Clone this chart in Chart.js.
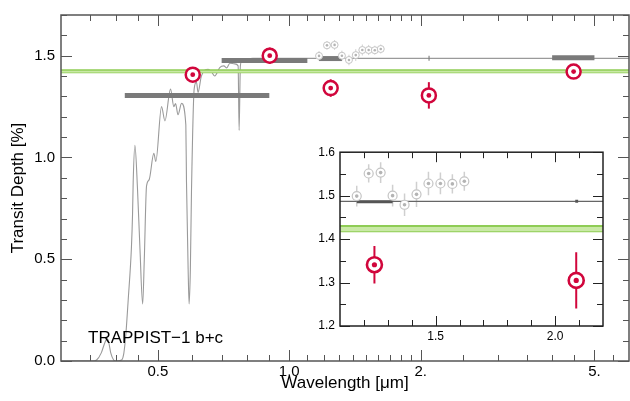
<!DOCTYPE html>
<html>
<head>
<meta charset="utf-8">
<script src="https://cdn.jsdelivr.net/npm/chart.js@4"></script>
<style>
  html, body { margin: 0; padding: 0; background: #fff; }
  #wrap { position: relative; width: 630px; height: 401px; }
  #main { position: absolute; left: 0; top: 0; }
  #inset { position: absolute; left: 300px; top: 140px; }
</style>
</head>
<body>
<div id="wrap">
  <canvas id="main" width="630" height="401"></canvas>
  <canvas id="inset" width="310" height="205"></canvas>
</div>
<script>
/* DATA */
// model transmission spectrum
const specWave = [0.30, 0.355, 0.362, 0.371, 0.378, 0.383, 0.386, 0.390, 0.396, 0.400, 0.413, 0.418,
  0.4225, 0.4276, 0.435, 0.4375, 0.439, 0.443, 0.449, 0.455, 0.4615, 0.4655, 0.471, 0.4774,
  0.4895, 0.4947, 0.5098, 0.519, 0.5346, 0.544, 0.549, 0.556, 0.5666, 0.5795, 0.5815, 0.5866,
  0.5896, 0.5935, 0.597, 0.6055, 0.613, 0.618, 0.629, 0.652, 0.6635, 0.675, 0.693, 0.708,
  0.719, 0.731, 0.750, 0.7635, 0.7676, 0.7726, 0.777, 0.798, 0.825, 1.0, 2.0, 6.0];
const specDepth = [0, 0, 0.005, 0.04, 0.09, 0.11, 0.09, 0.04, 0.005, 0, 0.005, 0.04,
  0.136, 0.30, 0.56, 0.72, 0.88, 1.06, 0.85, 0.55, 0.28, 0.50, 0.86, 0.89,
  1.02, 0.98, 1.25, 1.18, 1.336, 1.25, 1.265, 1.21, 1.266, 1.16, 0.88, 0.45,
  0.28, 0.45, 0.83, 1.336, 1.37, 1.32, 1.40, 1.433, 1.42, 1.40, 1.442, 1.45,
  1.44, 1.463, 1.46, 1.45, 1.133, 1.45, 1.47, 1.48, 1.487, 1.487, 1.487, 1.487];

// binned model
const binLo = [0.42, 0.70, 1.17, 2.084, 4.0];
const binHi = [0.90, 1.10, 1.32, 2.096, 5.0];
const binDepth = [1.304, 1.476, 1.486, 1.487, 1.49];

// observed points (red)
const obsWave = [0.601, 0.902, 1.244, 2.088, 4.48];
const obsDepth = [1.407, 1.50, 1.341, 1.305, 1.422];
const obsErr = [0.03, 0.04, 0.043, 0.065, 0.02];

// HST WFC3 points (grey)
const hstWave = [1.17, 1.22, 1.27, 1.32, 1.37, 1.42, 1.47, 1.52, 1.57, 1.62];
const hstDepth = [1.499, 1.551, 1.553, 1.500, 1.479, 1.503, 1.528, 1.528, 1.527, 1.533];
const hstErr = [0.024, 0.021, 0.024, 0.025, 0.026, 0.029, 0.027, 0.025, 0.022, 0.022];

// flat line band
const flatBand = [1.418, 1.430];

// axes
const xRange = [0.3, 6];
const xMajor = [0.5, 1, 2, 5];
const xLabels = ["0.5", "1.0", "2.", "5."];
const xMinor = [0.35, 0.4, 0.45, 0.6, 0.7, 0.8, 0.9, 1.1, 1.2, 1.3, 1.4, 1.5, 1.6, 1.7, 1.8, 1.9,
  2.5, 3, 3.5, 4, 4.5, 5.5];
const yRange = [0, 1.7];
const yMajor = [0, 0.5, 1.0, 1.5];
const yLabels = ["0.0", "0.5", "1.0", "1.5"];
const yMinor = [0.1, 0.2, 0.3, 0.4, 0.6, 0.7, 0.8, 0.9, 1.1, 1.2, 1.3, 1.4, 1.6, 1.7];

const insetXRange = [1.1, 2.2];
const insetXMajor = [1.5, 2.0];
const insetXLabels = ["1.5", "2.0"];
const insetXMinor = [1.2, 1.3, 1.4, 1.6, 1.7, 1.8, 1.9, 2.1];
const insetYRange = [1.2, 1.6];
const insetYMajor = [1.2, 1.3, 1.4, 1.5, 1.6];
const insetYLabels = ["1.2", "1.3", "1.4", "1.5", "1.6"];
const insetYMinor = [1.25, 1.35, 1.45, 1.55];

/*****************************************************************/

const RED = '#d1063c';
const FONT = "'Liberation Sans', Arial, Helvetica, sans-serif";

function pts(xs, ys) {
    return xs.map((v, i) => ({ x: v, y: ys[i] }));
}

// frame, inward ticks on all four sides, error bars
const frameTicks = {
    id: 'frameTicks',
    beforeDatasetsDraw(chart, args, o) {
        const { ctx, chartArea: a, scales: { x, y } } = chart;
        ctx.save();
        if (o.bg) {
            ctx.fillStyle = o.bg;
            ctx.fillRect(a.left, a.top, a.right - a.left, a.bottom - a.top);
        }
        ctx.beginPath();
        ctx.rect(a.left, a.top, a.right - a.left, a.bottom - a.top);
        ctx.clip();
        o.errors.forEach(e => {
            ctx.strokeStyle = e.color;
            ctx.lineWidth = e.width;
            e.xs.forEach((xv, i) => {
                const px = x.getPixelForValue(xv);
                ctx.beginPath();
                ctx.moveTo(px, y.getPixelForValue(e.ys[i] - e.es[i]));
                ctx.lineTo(px, y.getPixelForValue(e.ys[i] + e.es[i]));
                ctx.stroke();
            });
        });
        ctx.restore();
    },
    afterDatasetsDraw(chart, args, o) {
        const { ctx, chartArea: a, scales: { x, y } } = chart;
        ctx.save();
        ctx.strokeStyle = o.color;
        ctx.lineWidth = o.tickWidth;
        const xt = (list, len) => list.forEach(v => {
            const px = Math.round(x.getPixelForValue(v)) + 0.5;
            ctx.beginPath();
            ctx.moveTo(px, a.bottom); ctx.lineTo(px, a.bottom - len);
            ctx.moveTo(px, a.top); ctx.lineTo(px, a.top + len);
            ctx.stroke();
        });
        const yt = (list, len) => list.forEach(v => {
            const py = Math.round(y.getPixelForValue(v)) + 0.5;
            ctx.beginPath();
            ctx.moveTo(a.left, py); ctx.lineTo(a.left + len, py);
            ctx.moveTo(a.right, py); ctx.lineTo(a.right - len, py);
            ctx.stroke();
        });
        xt(o.xMinor, o.minLen); xt(o.xMajor, o.majLen);
        yt(o.yMinor, o.minLen); yt(o.yMajor, o.majLen);
        ctx.lineWidth = o.frameWidth;
        ctx.strokeRect(a.left, a.top, a.right - a.left, a.bottom - a.top);
        if (o.label) {
            ctx.fillStyle = '#000';
            ctx.font = o.label.font;
            ctx.textBaseline = 'alphabetic';
            ctx.fillText(o.label.text, a.left + o.label.dx, a.bottom - o.label.dy);
        }
        ctx.restore();
    }
};

function makeDatasets(s) {
    const ds = [];
    ds.push({ data: pts(obsWave, obsDepth), pointRadius: s.dotR, pointBackgroundColor: RED,
        pointBorderWidth: 0, order: 0 });
    ds.push({ data: pts(obsWave, obsDepth), pointRadius: s.ringR, pointBackgroundColor: '#fff',
        pointBorderColor: RED, pointBorderWidth: s.ringW, order: 1 });
    ds.push({ data: pts(hstWave, hstDepth), pointRadius: s.hstDotR, pointBackgroundColor: '#b4b4b4',
        pointBorderWidth: 0, order: 2 });
    ds.push({ data: pts(hstWave, hstDepth), pointRadius: s.hstR, pointBackgroundColor: '#fff',
        pointBorderColor: '#c4c4c4', pointBorderWidth: s.hstW, order: 3 });
    binLo.forEach((lo, i) => {
        ds.push({ data: [{ x: lo, y: binDepth[i] }, { x: binHi[i], y: binDepth[i] }],
            showLine: true, pointRadius: 0, borderColor: s.barColor, borderWidth: s.barW,
            borderCapStyle: 'butt', order: 4 });
    });
    ds.push({ data: pts(xRange, [flatBand[1], flatBand[1]]), showLine: true, pointRadius: 0,
        borderColor: '#8fcc55', borderWidth: s.bandW, fill: '+1',
        backgroundColor: '#c9e9a6', order: 5 });
    ds.push({ data: pts(xRange, [flatBand[0], flatBand[0]]), showLine: true, pointRadius: 0,
        borderColor: '#8fcc55', borderWidth: s.bandW, order: 5 });
    ds.push({ data: pts(specWave, specDepth), showLine: true, pointRadius: 0,
        borderColor: s.specColor, borderWidth: s.specW, cubicInterpolationMode: 'monotone', order: 6 });
    return ds;
}

/* MAIN CHART */
new Chart(document.getElementById('main').getContext('2d'), {
    type: 'scatter',
    data: {
        datasets: makeDatasets({ dotR: 2.4, ringR: 7, ringW: 2.5, hstDotR: 1.3, hstR: 3.5, hstW: 1,
            barColor: '#7a7a7a', barW: 5, bandW: 1.6, specColor: '#9a9a9a', specW: 1.1 })
    },
    options: {
        responsive: false,
        animation: false,
        devicePixelRatio: 1,
        events: [],
        layout: { autoPadding: false, padding: { top: 11, right: 1, left: 0, bottom: 0 } },
        scales: {
            x: {
                type: 'logarithmic',
                min: xRange[0], max: xRange[1],
                grid: { display: false, drawTicks: false },
                border: { display: false },
                afterBuildTicks: s => { s.ticks = xMajor.map(v => ({ value: v })); },
                afterFit: s => { s.height = 40; },
                ticks: {
                    autoSkip: false, maxRotation: 0, padding: 2, color: '#000',
                    font: { family: FONT, size: 15 },
                    callback: (v, i) => xLabels[i]
                },
                title: { display: true, text: 'Wavelength [\u03bcm]', color: '#000',
                    font: { family: FONT, size: 17 }, padding: { top: 0, bottom: 7 } }
            },
            y: {
                min: yRange[0], max: yRange[1],
                grid: { display: false, drawTicks: false },
                border: { display: false },
                afterBuildTicks: s => { s.ticks = yMajor.map(v => ({ value: v })); },
                afterFit: s => { s.width = 61; },
                ticks: {
                    autoSkip: false, padding: 6, color: '#000',
                    font: { family: FONT, size: 15 },
                    callback: (v, i) => yLabels[i]
                },
                title: { display: true, text: 'Transit Depth [%]', color: '#000',
                    font: { family: FONT, size: 17 }, padding: { top: 8, bottom: 0 } }
            }
        },
        plugins: {
            legend: { display: false },
            tooltip: { enabled: false },
            frameTicks: {
                color: '#555', tickWidth: 1, frameWidth: 1.5, majLen: 11, minLen: 6,
                xMajor: xMajor, xMinor: xMinor, yMajor: yMajor, yMinor: yMinor,
                errors: [
                    { xs: hstWave, ys: hstDepth, es: hstErr, color: '#cfcfcf', width: 1 },
                    { xs: obsWave, ys: obsDepth, es: obsErr, color: RED, width: 2 }
                ],
                label: { text: 'TRAPPIST\u22121 b+c', font: '17px ' + FONT, dx: 27, dy: 18 }
            }
        }
    },
    plugins: [frameTicks]
});

/* INSET */
new Chart(document.getElementById('inset').getContext('2d'), {
    type: 'scatter',
    data: {
        datasets: makeDatasets({ dotR: 2.6, ringR: 7.5, ringW: 2.6, hstDotR: 1.8, hstR: 4.5, hstW: 1.2,
            barColor: '#555', barW: 3, bandW: 2, specColor: '#666', specW: 1.2 })
    },
    options: {
        responsive: false,
        animation: false,
        devicePixelRatio: 1,
        events: [],
        layout: { autoPadding: false, padding: { top: 11, right: 7, left: 0, bottom: 0 } },
        scales: {
            x: {
                type: 'linear',
                min: insetXRange[0], max: insetXRange[1],
                grid: { display: false, drawTicks: false },
                border: { display: false },
                afterBuildTicks: s => { s.ticks = insetXMajor.map(v => ({ value: v })); },
                afterFit: s => { s.height = 19; },
                ticks: {
                    autoSkip: false, maxRotation: 0, padding: 3, color: '#000',
                    font: { family: FONT, size: 12 },
                    callback: (v, i) => insetXLabels[i]
                }
            },
            y: {
                min: insetYRange[0], max: insetYRange[1],
                grid: { display: false, drawTicks: false },
                border: { display: false },
                afterBuildTicks: s => { s.ticks = insetYMajor.map(v => ({ value: v })); },
                afterFit: s => { s.width = 40; },
                ticks: {
                    autoSkip: false, padding: 5, color: '#000',
                    font: { family: FONT, size: 12 },
                    callback: (v, i) => insetYLabels[i]
                }
            }
        },
        plugins: {
            legend: { display: false },
            tooltip: { enabled: false },
            frameTicks: {
                bg: '#fff', color: '#222', tickWidth: 1, frameWidth: 1.5, majLen: 10, minLen: 6,
                xMajor: insetXMajor, xMinor: insetXMinor, yMajor: insetYMajor, yMinor: insetYMinor,
                errors: [
                    { xs: hstWave, ys: hstDepth, es: hstErr, color: '#cfcfcf', width: 1.5 },
                    { xs: obsWave, ys: obsDepth, es: obsErr, color: RED, width: 2 }
                ]
            }
        }
    },
    plugins: [frameTicks]
});
</script>
</body>
</html>
